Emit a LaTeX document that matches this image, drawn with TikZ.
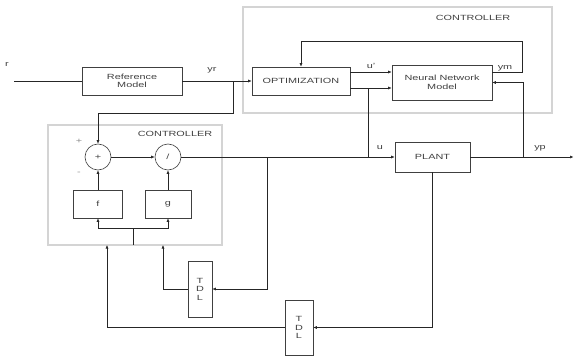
\documentclass[tikz,border=0pt]{standalone}
\usepackage{fontspec}
\setmainfont{Liberation Sans}[FakeStretch=1.45]
\usetikzlibrary{arrows.meta}
\begin{document}
\begin{tikzpicture}[x=1pt,y=-1pt,
  every node/.style={font=\fontsize{7.5}{8.5}\selectfont, text=black!75},
  blk/.style={draw=black!75, line width=0.6pt, rectangle, inner sep=0pt, align=center},
  sumc/.style={draw=black!75, line width=0.6pt, circle, minimum size=26pt, inner sep=0pt},
  ctl/.style={draw=black!17, line width=1.1pt},
  lab/.style={inner sep=0pt},
  wire/.style={line width=0.6pt, draw=black!85},
  arr/.style={wire, -{Latex[length=3.5pt,width=3pt]}}]
\useasboundingbox (0,0) rectangle (574,356);
% controller frames
\draw[ctl] (243,7) rectangle (552,113);
\draw[ctl] (48,125) rectangle (222,245);
% blocks
\node[blk, minimum width=100pt, minimum height=28pt] (ref) at (132,81) {Reference\\Model};
\node[blk, minimum width=98pt, minimum height=28pt] (opt) at (301,81) {OPTIMIZATION};
\node[blk, minimum width=100pt, minimum height=35pt] (nn) at (442,82.5) {Neural Network\\Model};
\node[blk, minimum width=75pt, minimum height=30pt] (plant) at (432.5,157) {PLANT};
\node[sumc] (sum) at (98,157) {+};
\node[sumc] (div) at (168,157) {/};
\node[blk, minimum width=49pt, minimum height=28pt] (f) at (98,204) {f};
\node[blk, minimum width=46pt, minimum height=28pt] (g) at (168,204) {g};
\node[blk, minimum width=24pt, minimum height=56pt] (tdl1) at (200,289) {T\\D\\L};
\node[blk, minimum width=28pt, minimum height=55pt] (tdl2) at (299,327.5) {T\\D\\L};
% labels
\node[lab] (lr) at (7,64) {r};
\node[lab] (lyr) at (212,70) {yr};
\node[lab] (lu1) at (371,66) {u'};
\node[lab] (lym) at (505,68) {ym};
\node[lab] (lu) at (380,148) {u};
\node[lab] (lyp) at (540,148) {yp};
\node[lab, text=black!45] (lp) at (79,141) {+};
\node[lab, text=black!45] (lm) at (79,173) {-};
\node[lab] (c1) at (473,18) {CONTROLLER};
\node[lab] (c2) at (175,134) {CONTROLLER};
% coordinates
\coordinate (in) at (14,81);
\coordinate (out) at (573.5,157);
\coordinate (j1) at (233,81);
\coordinate (ya) at (0,72);
\coordinate (yb) at (0,88);
\coordinate (fb) at (522,41);
\coordinate (j2) at (368,88);
\coordinate (j3) at (523,157);
\coordinate (j4) at (267,157);
\coordinate (bus) at (133,228);
\coordinate (busend) at (133,245);
\coordinate (ta) at (163,245);
\coordinate (tb) at (107,245);
% wires
\draw[wire] (in) -- (ref.west);
\draw[arr] (ref.east) -- (opt.west);
\draw[arr] (j1) -- ++(0,32) -| (sum.north);
\draw[arr] (opt.east |- ya) -- (nn.west |- ya);
\draw[arr] (opt.east |- yb) -- (nn.west |- yb);
\draw[arr] (nn.east |- ya) -| (fb) -| (opt.north);
\draw[wire] (j2) -- (j2 |- plant.west);
\draw[arr] (j3) |- (nn.east);
\draw[arr] (sum.east) -- (div.west);
\draw[arr] (div.east) -- (plant.west);
\draw[arr] (plant.east) -- (out);
\draw[arr] (f.north) -- (sum.south);
\draw[arr] (g.north) -- (div.south);
\draw[arr] (bus) -| (f.south);
\draw[arr] (bus) -| (g.south);
\draw[wire] (bus) -- (busend);
\draw[arr] (tdl1.west) -| (ta);
\draw[arr] (tdl2.west) -| (tb);
\draw[arr] (j4) |- (tdl1.east);
\draw[arr] (plant.south) |- (tdl2.east);
\end{tikzpicture}
\end{document}
